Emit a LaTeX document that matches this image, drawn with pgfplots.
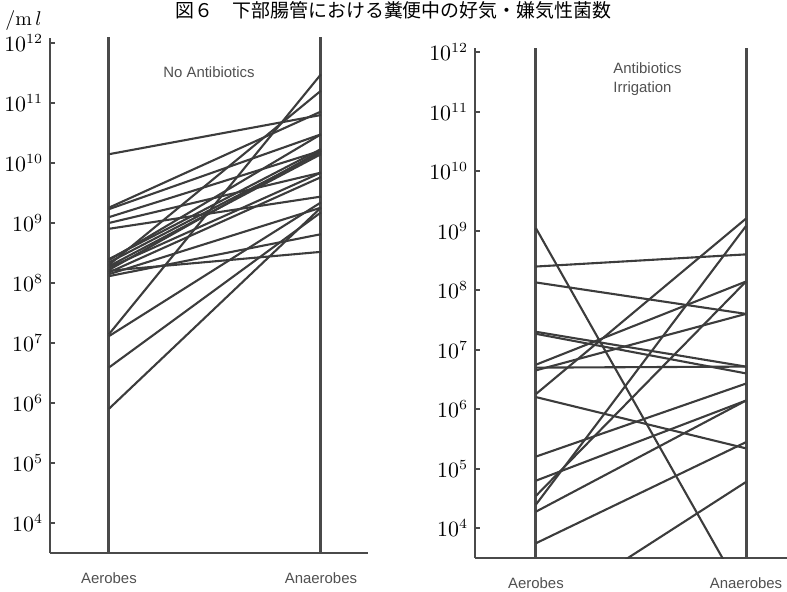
\documentclass[border=0pt]{standalone}
\usepackage{fontspec}
\usepackage{pgfplots}
\pgfplotsset{compat=1.18}
\setsansfont{Liberation Sans}
\newfontfamily\cjk{Noto Sans CJK JP}

\definecolor{ink}{HTML}{3C3C3C}
\definecolor{axisgray}{HTML}{4A4A4A}
\definecolor{labelgray}{HTML}{505050}

\pgfplotsset{
  countpanel/.style={
    scale only axis,
    axis x line=bottom, axis y line=left,
    axis line style={-, line width=1.4bp, draw=axisgray},
    xtick={0,1}, xticklabels={Aerobes,Anaerobes},
    major x tick style={draw=none},
    x tick label style={font=\sffamily\fontsize{7.5}{9}\selectfont, text=labelgray, yshift=-6.5bp},
    ytick={1e4,1e5,1e6,1e7,1e8,1e9,1e10,1e11,1e12},
    yminorticks=false,
    tick align=inside,
    major tick length=2.5bp,
    y tick style={line width=1bp, draw=axisgray},
    y tick label style={font=\fontsize{10.5}{12}\selectfont, text=black},
    ymin=3162,
  },
}
\tikzset{
  patientline/.style={draw=ink, line width=1.05bp},
  samplepost/.style={draw=axisgray, line width=1.5bp},
}

% one line per patient: aerobic count -> anaerobic count (per ml)
\newcommand{\pair}[2]{\addplot[patientline, mark=none] coordinates {(0,#1) (1,#2)};}

\begin{document}
\begin{tikzpicture}

% ---- left panel: no antibiotics ----
\begin{semilogyaxis}[countpanel, at={(25bp,-276.5bp)}, anchor=south west,
  width=159bp, height=257.5bp,
  xmin=-0.278, xmax=1.222, ymax=1.21e12]
  \addplot[samplepost, mark=none] coordinates {(0,3162) (0,2e12)};
  \addplot[samplepost, mark=none] coordinates {(1,3162) (1,2e12)};
  \pair{1.4e10}{6.3e10}
  \pair{1.8e9}{7.2e10}
  \pair{1.7e9}{3.0e10}
  \pair{1.25e9}{1.6e10}
  \pair{1.0e9}{6.9e9}
  \pair{8.0e8}{2.75e9}
  \pair{2.5e8}{1.7e10}
  \pair{2.2e8}{1.5e10}
  \pair{1.9e8}{1.4e10}
  \pair{1.65e8}{1.6e10}
  \pair{1.5e8}{5.8e9}
  \pair{2.0e8}{1.6e11}
  \pair{1.4e8}{1.8e9}
  \pair{1.3e8}{6.5e8}
  \pair{1.6e8}{3.3e8}
  \pair{1.8e8}{6.9e9}
  \pair{2.4e8}{3.0e10}
  \pair{1.4e7}{3.0e11}
  \pair{1.3e7}{2.2e9}
  \pair{3.9e6}{1.5e9}
  \pair{8.0e5}{1.8e9}
\end{semilogyaxis}

% ---- right panel: antibiotics irrigation ----
\begin{semilogyaxis}[countpanel, at={(237.5bp,-279bp)}, anchor=south west,
  width=156bp, height=255bp,
  xmin=-0.29, xmax=1.195, ymax=1.175e12]
  \addplot[samplepost, mark=none] coordinates {(0,3162) (0,2e12)};
  \addplot[samplepost, mark=none] coordinates {(1,3162) (1,2e12)};
  \pair{1.1e9}{6.3e2}
  \pair{2.5e8}{4.0e8}
  \pair{1.35e8}{4.0e7}
  \pair{2.0e7}{5.2e6}
  \pair{1.85e7}{4.0e6}
  \pair{5.0e6}{5.2e6}
  \pair{5.6e6}{1.4e8}
  \pair{4.5e6}{4.0e7}
  \pair{1.8e6}{1.6e9}
  \pair{1.6e6}{2.2e5}
  \pair{1.6e5}{2.7e6}
  \pair{6.3e4}{1.4e6}
  \pair{2.5e4}{1.2e9}
  \pair{3.5e4}{1.4e8}
  \pair{1.9e4}{1.4e6}
  \pair{5.6e3}{2.8e5}
  \pair{3.2e2}{6.0e4}
\end{semilogyaxis}

% panel captions and unit
\node[font=\sffamily\fontsize{7.5}{9}\selectfont, text=labelgray] at (104.5bp,-36bp) {No Antibiotics};
\node[anchor=north west, align=left, inner sep=0pt, font=\sffamily\fontsize{7.5}{9.5}\selectfont, text=labelgray] at (306.5bp,-31bp) {Antibiotics\\Irrigation};
\node[anchor=base west, inner sep=0pt, font=\fontsize{10}{12}\selectfont] at (2.5bp,-12.5bp) {/m$\,l$};
\node[anchor=base, inner sep=0pt, font=\cjk\fontsize{9.5}{11}\selectfont] at (196.75bp,-8.5bp) {図６　下部腸管における糞便中の好気・嫌気性菌数};

\pgfresetboundingbox
\useasboundingbox (0bp,0bp) rectangle (393.5bp,-296bp);
\end{tikzpicture}
\end{document}
